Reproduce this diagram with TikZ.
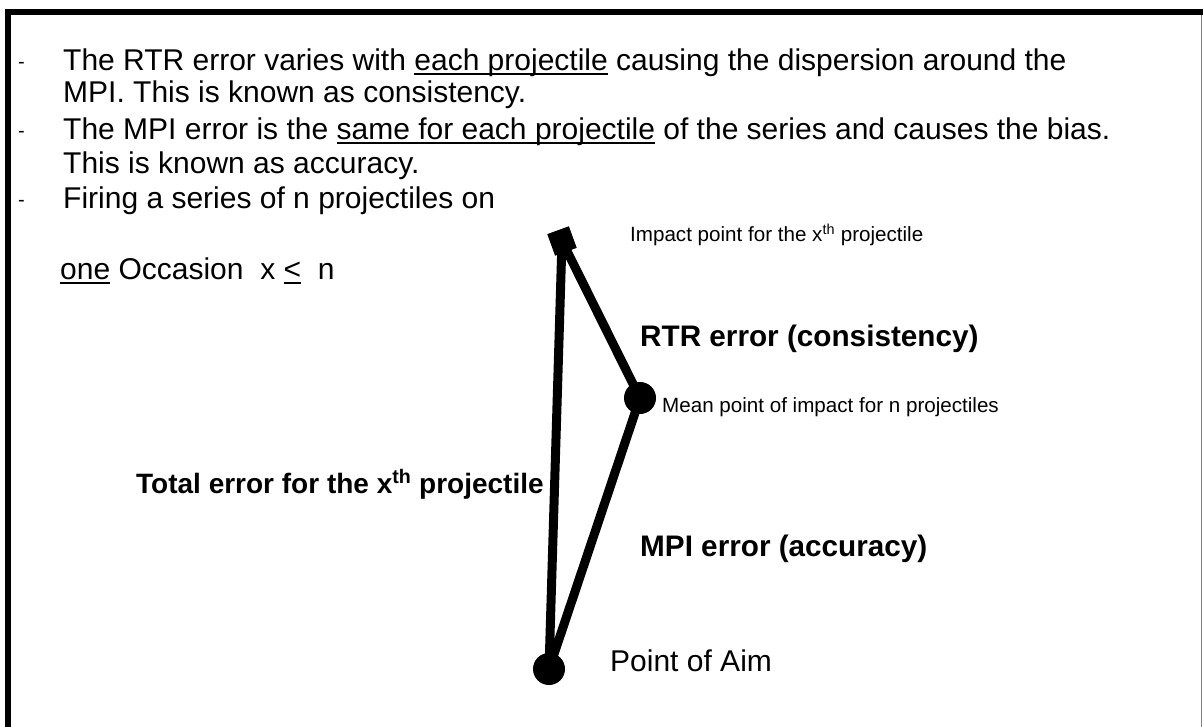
\documentclass[tikz,border=0pt]{standalone}
\usepackage{fontspec}
\setmainfont{Liberation Sans}
\newcommand\myul[1]{\setbox0\hbox{#1}\rlap{\rule[-4.5pt]{\wd0}{2pt}}\box0\relax}
\begin{document}
\begin{tikzpicture}[x=1pt,y=-1pt,
  txt/.style={anchor=base west,inner sep=0pt,font=\fontsize{30}{36}\selectfont},
  dsh/.style={anchor=base west,inner sep=0pt,font=\fontsize{20}{24}\selectfont},
  small/.style={anchor=base west,inner sep=0pt,font=\fontsize{20.6}{25}\selectfont},
  boldlbl/.style={anchor=base west,inner sep=0pt,font=\fontsize{29.7}{35}\selectfont\bfseries},
  dot/.style={circle,fill=black,inner sep=0pt,minimum size=32pt},
  sq/.style={rectangle,fill=black,inner sep=0pt,minimum size=23pt,rotate=20},
  err/.style={line width=9pt,line join=round}]
\useasboundingbox (0,0) rectangle (1203,727);
% frame
\draw[line width=6pt] (8,727) -- (8,12) -- (1203,12);
\draw[line width=1.5pt,gray] (1201.5,15) -- (1201.5,727);
% bullets
\node[dsh] (d1) at (18,69) {-};
\node[txt] (l1) at (63,71) {The RTR error varies with \myul{each projectile} causing the dispersion around the};
\node[txt] (l2) at (63,103) {MPI. This is known as consistency.};
\node[dsh] (d2) at (18,138) {-};
\node[txt] (l3) at (63,140) {The MPI error is the \myul{same for each projectile} of the series and causes the bias.};
\node[txt] (l4) at (63,174) {This is known as accuracy.};
\node[dsh] (d3) at (18,207) {-};
\node[txt] (l5) at (63,209) {Firing a series of n projectiles on};
\node[txt] (l6) at (60,280) {\myul{one} Occasion\ \ x \myul{<}\ \ n};
% geometry
\coordinate (pac) at (549,669);
\coordinate (ipc) at (562,241);
\coordinate (mpic) at (640,398);
\draw[err] (pac) -- (ipc) -- (mpic) -- cycle;
\node[dot] (pa) at (pac) {};
\node[dot] (mpi) at (mpic) {};
\node[sq] (ip) at (ipc) {};
% labels
\node[small] (lip) at (630,242) {Impact point for the x\textsuperscript{th} projectile};
\node[boldlbl] (lrtr) at (640,347) {RTR error (consistency)};
\node[small] (lmpi) at (662,413) {Mean point of impact for n projectiles};
\node[boldlbl,font=\fontsize{28}{34}\selectfont\bfseries] (ltot) at (136,493) {Total error for the x\textsuperscript{th} projectile};
\node[boldlbl] (lmpie) at (640,556) {MPI error (accuracy)};
\node[txt] (lpa) at (610,671) {Point of Aim};
\end{tikzpicture}
\end{document}
